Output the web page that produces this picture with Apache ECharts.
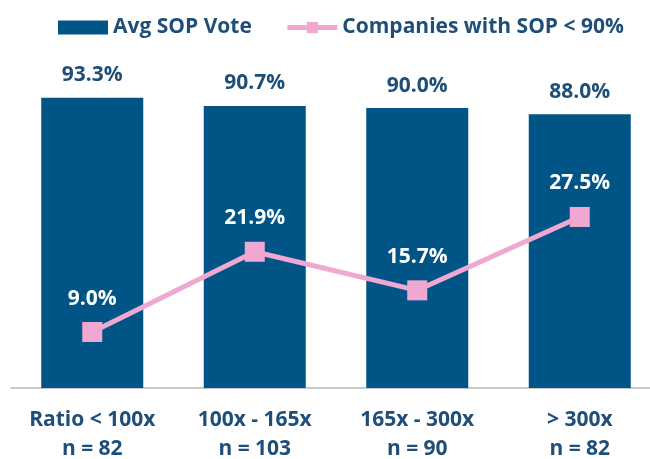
<!DOCTYPE html>
<html>
<head>
<meta charset="utf-8">
<script src="https://cdn.jsdelivr.net/npm/echarts@6/dist/echarts.min.js"></script>
<style>
  html, body { margin: 0; padding: 0; background: #fff; }
  #chart { width: 650px; height: 459px; }
</style>
</head>
<body>
<div id="chart"></div>
<script>
const categories = ['Ratio < 100x\nn = 82', '100x - 165x\nn = 103', '165x - 300x\nn = 90', '> 300x\nn = 82'];
const avgVote = [93.3, 90.7, 90.0, 88.0];
const below90 = [9.0, 21.9, 15.7, 27.5];

const blue = '#005586';
const pink = '#F0A8D2';
const textBlue = '#1F4E79';
const font = '"Open Sans", Lato, sans-serif';

const chart = echarts.init(document.getElementById('chart'));
chart.setOption({
  animation: false,
  backgroundColor: '#fff',
  textStyle: { fontFamily: font },
  legend: {
    top: 12,
    left: 53,
    itemWidth: 50,
    itemHeight: 14,
    itemGap: 33,
    textStyle: { color: textBlue, fontSize: 21, fontWeight: 'bold', fontFamily: font },
    data: [
      { name: 'Avg SOP Vote', icon: 'rect' },
      { name: 'Companies with SOP < 90%', lineStyle: { width: 5 } }
    ]
  },
  grid: { left: 11, width: 650, top: 77, height: 311, outerBoundsMode: 'none', containLabel: false },
  xAxis: {
    type: 'category',
    data: categories,
    axisTick: { show: false },
    axisLine: { lineStyle: { color: '#c8c8c8', width: 2 } },
    axisLabel: {
      interval: 0,
      color: textBlue, fontSize: 21, fontWeight: 'bold', fontFamily: font,
      lineHeight: 29, margin: 18
    }
  },
  yAxis: [
    { type: 'value', min: 0, max: 100, show: false },
    { type: 'value', min: 0, max: 50, show: false }
  ],
  series: [
    {
      name: 'Avg SOP Vote',
      type: 'bar',
      data: avgVote,
      barWidth: 102,
      itemStyle: { color: blue },
      label: {
        show: true, position: 'top', distance: 12,
        color: textBlue, fontSize: 21, fontWeight: 'bold', fontFamily: font,
        formatter: p => p.value.toFixed(1) + '%'
      }
    },
    {
      name: 'Companies with SOP < 90%',
      type: 'line',
      yAxisIndex: 1,
      data: below90,
      symbol: 'rect',
      symbolSize: 20,
      lineStyle: { color: pink, width: 5 },
      itemStyle: { color: pink },
      label: {
        show: true, position: 'top', distance: 13,
        color: '#fff', fontSize: 21, fontWeight: 'bold', fontFamily: font,
        formatter: p => p.value.toFixed(1) + '%'
      }
    }
  ]
});
</script>
</body>
</html>
